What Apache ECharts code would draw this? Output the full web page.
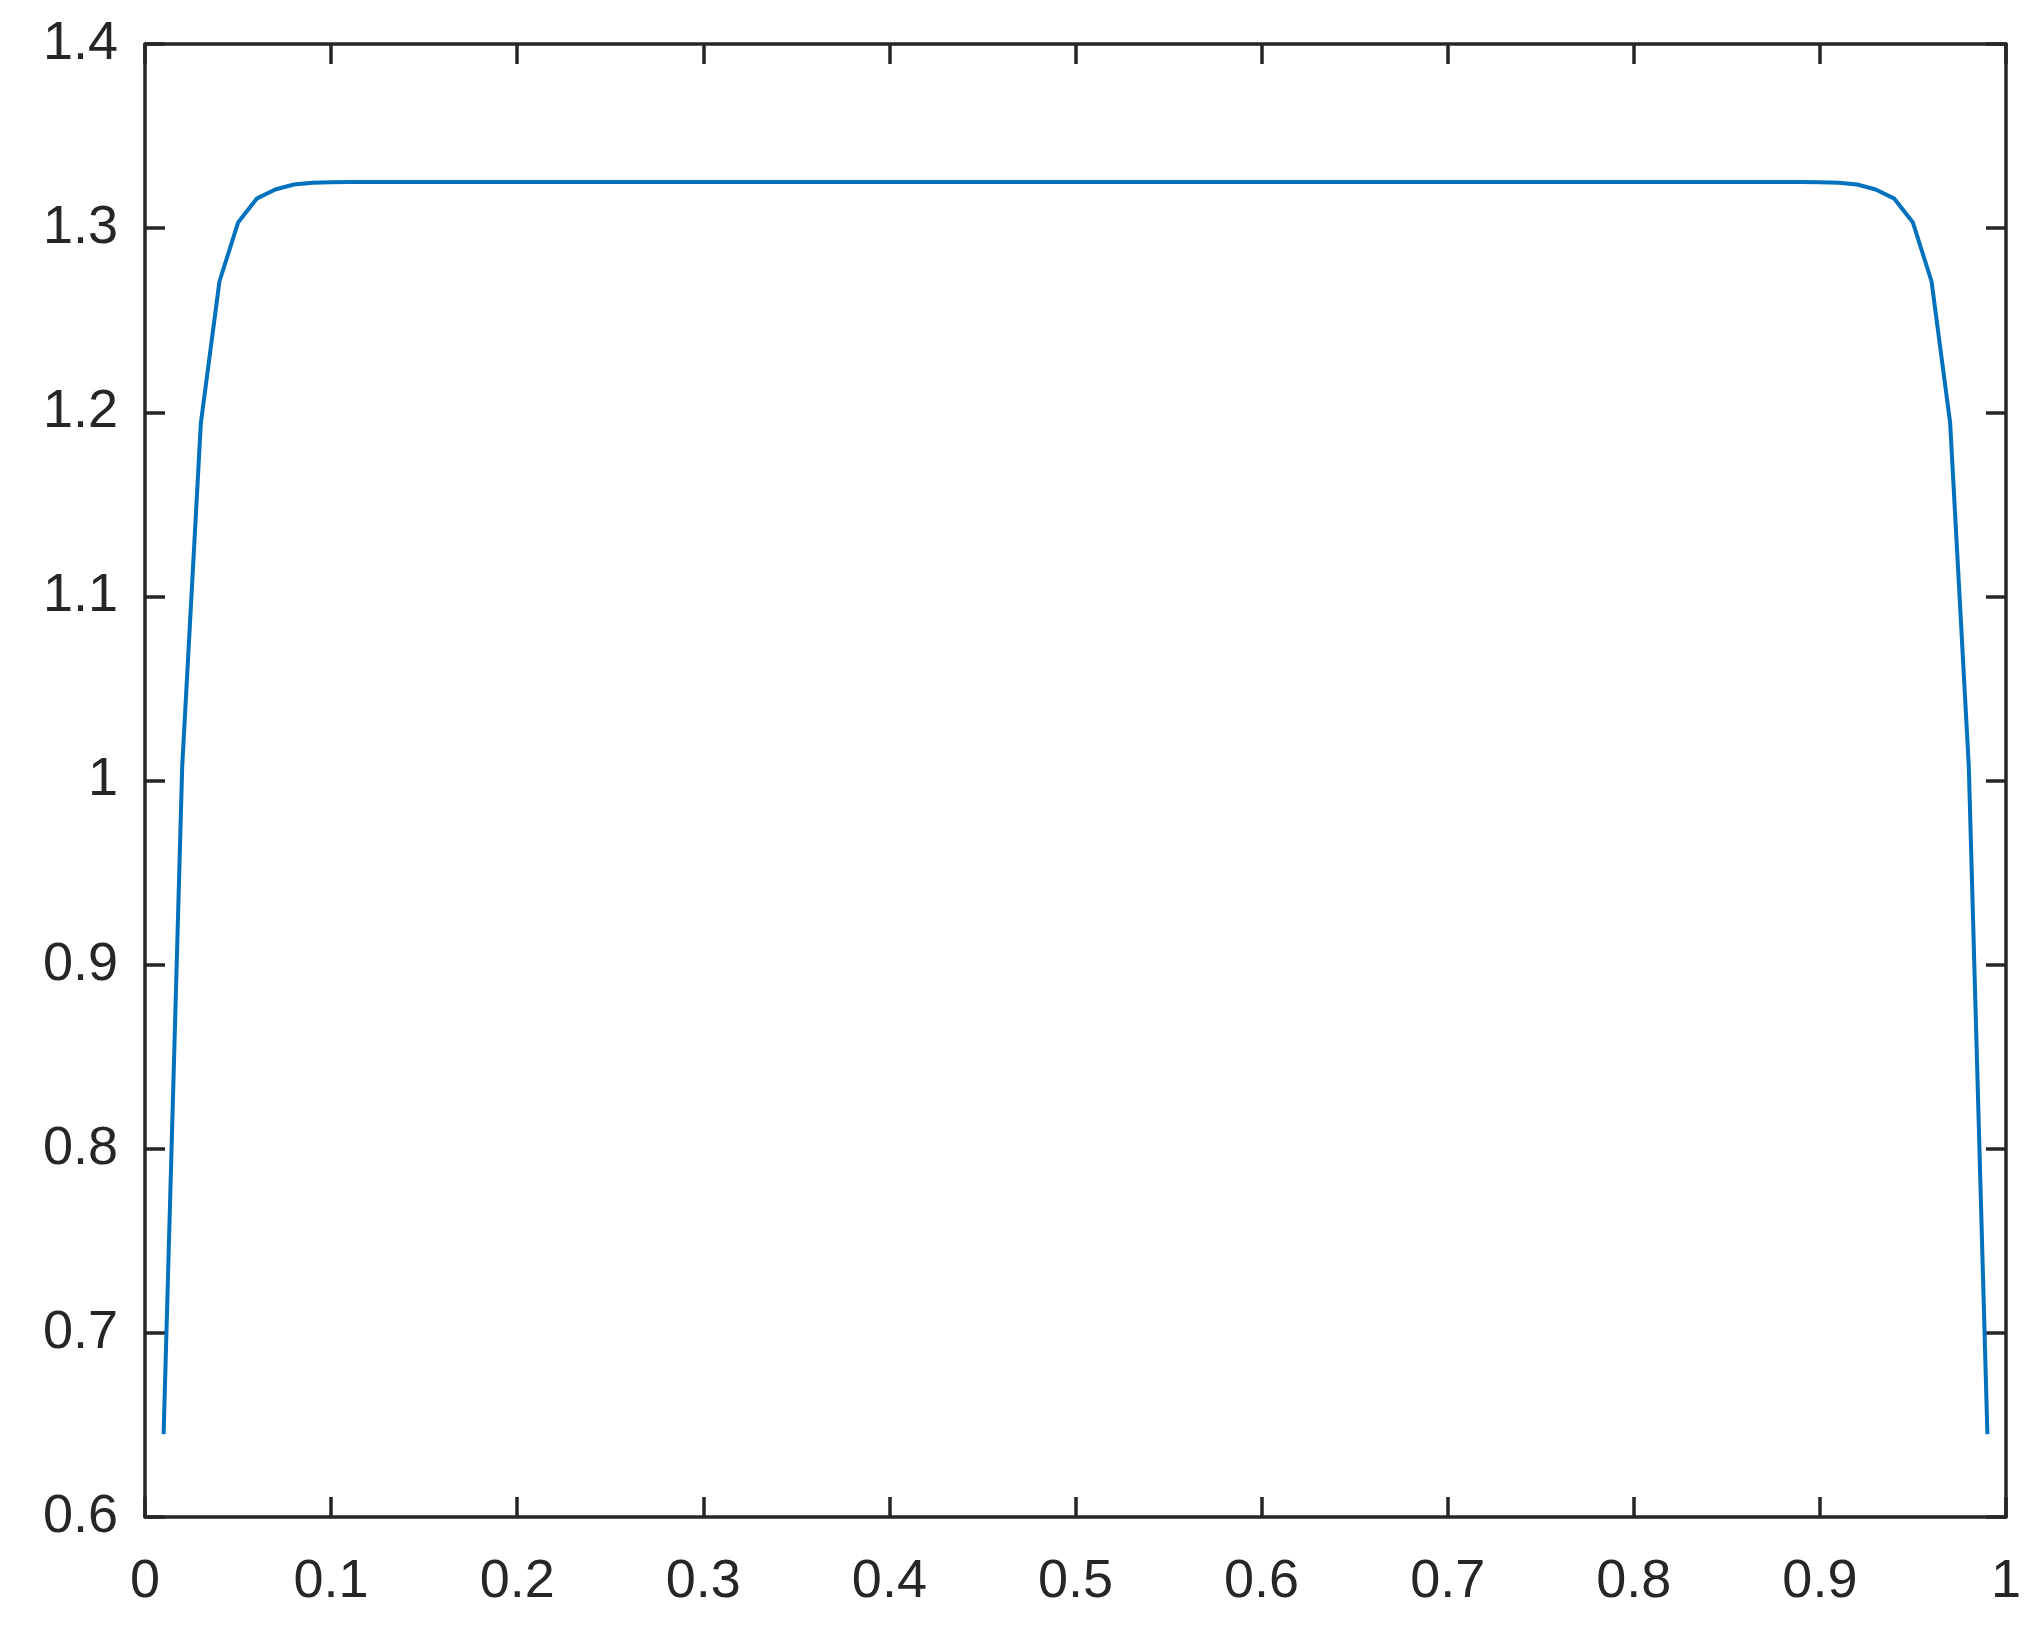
<!DOCTYPE html>
<html>
<head>
<meta charset="utf-8">
<script src="https://cdn.jsdelivr.net/npm/echarts@6/dist/echarts.min.js"></script>
<style>
html,body{margin:0;padding:0;background:#fff;}
#chart{width:2040px;height:1636px;}
</style>
</head>
<body>
<div id="chart"></div>
<script>
const xValues = [
  0.01,0.02,0.03,0.04,0.05,0.06,0.07,0.08,0.09,0.10,
  0.11,0.12,0.13,0.14,0.15,0.16,0.17,0.18,0.19,0.20,
  0.21,0.22,0.23,0.24,0.25,0.26,0.27,0.28,0.29,0.30,
  0.31,0.32,0.33,0.34,0.35,0.36,0.37,0.38,0.39,0.40,
  0.41,0.42,0.43,0.44,0.45,0.46,0.47,0.48,0.49,0.50,
  0.51,0.52,0.53,0.54,0.55,0.56,0.57,0.58,0.59,0.60,
  0.61,0.62,0.63,0.64,0.65,0.66,0.67,0.68,0.69,0.70,
  0.71,0.72,0.73,0.74,0.75,0.76,0.77,0.78,0.79,0.80,
  0.81,0.82,0.83,0.84,0.85,0.86,0.87,0.88,0.89,0.90,
  0.91,0.92,0.93,0.94,0.95,0.96,0.97,0.98,0.99
];
const yValues = [
  0.645,1.008,1.194,1.271,1.303,1.316,1.321,1.3237,1.3246,1.3249,
  1.325,1.325,1.325,1.325,1.325,1.325,1.325,1.325,1.325,1.325,
  1.325,1.325,1.325,1.325,1.325,1.325,1.325,1.325,1.325,1.325,
  1.325,1.325,1.325,1.325,1.325,1.325,1.325,1.325,1.325,1.325,
  1.325,1.325,1.325,1.325,1.325,1.325,1.325,1.325,1.325,1.325,
  1.325,1.325,1.325,1.325,1.325,1.325,1.325,1.325,1.325,1.325,
  1.325,1.325,1.325,1.325,1.325,1.325,1.325,1.325,1.325,1.325,
  1.325,1.325,1.325,1.325,1.325,1.325,1.325,1.325,1.325,1.325,
  1.325,1.325,1.325,1.325,1.325,1.325,1.325,1.325,1.325,1.3249,
  1.3246,1.3237,1.321,1.316,1.303,1.271,1.194,1.008,0.645
];
const xTickLabels = ['0','0.1','0.2','0.3','0.4','0.5','0.6','0.7','0.8','0.9','1'];
const yTickLabels = ['0.6','0.7','0.8','0.9','1','1.1','1.2','1.3','1.4'];

const chart = echarts.init(document.getElementById('chart'), null, {renderer:'canvas'});
const axisColor = '#262626';
const fontFamily = '"Liberation Sans", Arial, Helvetica, sans-serif';
const lineStyleAxis = {color: axisColor, width: 3.5};
const tickStyle = {show: true, inside: true, length: 20, lineStyle: {color: axisColor, width: 3.5}};

function xLabel(v){ const i = Math.round(v*10); return xTickLabels[i] !== undefined ? xTickLabels[i] : ''; }
function yLabel(v){ const i = Math.round((v-0.6)*10); return yTickLabels[i] !== undefined ? yTickLabels[i] : ''; }

chart.setOption({
  animation: false,
  backgroundColor: '#ffffff',
  grid: {left: 145, right: 34, top: 44, bottom: 119, containLabel: false},
  xAxis: [
    {type:'value', position:'bottom', min:0, max:1, interval:0.1,
     axisLine:{show:true, onZero:false, lineStyle:lineStyleAxis},
     axisTick: tickStyle, splitLine:{show:false},
     axisLabel:{show:true, formatter:xLabel, color:axisColor, fontSize:54, fontFamily:fontFamily, margin:38}},
    {type:'value', position:'top', min:0, max:1, interval:0.1,
     axisLine:{show:true, onZero:false, lineStyle:lineStyleAxis},
     axisTick: tickStyle, splitLine:{show:false}, axisLabel:{show:false}}
  ],
  yAxis: [
    {type:'value', position:'left', min:0.6, max:1.4, interval:0.1,
     axisLine:{show:true, onZero:false, lineStyle:lineStyleAxis},
     axisTick: tickStyle, splitLine:{show:false},
     axisLabel:{show:true, formatter:yLabel, color:axisColor, fontSize:54, fontFamily:fontFamily, margin:27}},
    {type:'value', position:'right', min:0.6, max:1.4, interval:0.1,
     axisLine:{show:true, onZero:false, lineStyle:lineStyleAxis},
     axisTick: tickStyle, splitLine:{show:false}, axisLabel:{show:false}}
  ],
  series: [{
    type:'line',
    xAxisIndex:0, yAxisIndex:0,
    data: xValues.map((x,i)=>[x, yValues[i]]),
    showSymbol:false, symbol:'none',
    lineStyle:{color:'#0072BD', width:4},
    smooth:false
  }]
});
</script>
</body>
</html>
